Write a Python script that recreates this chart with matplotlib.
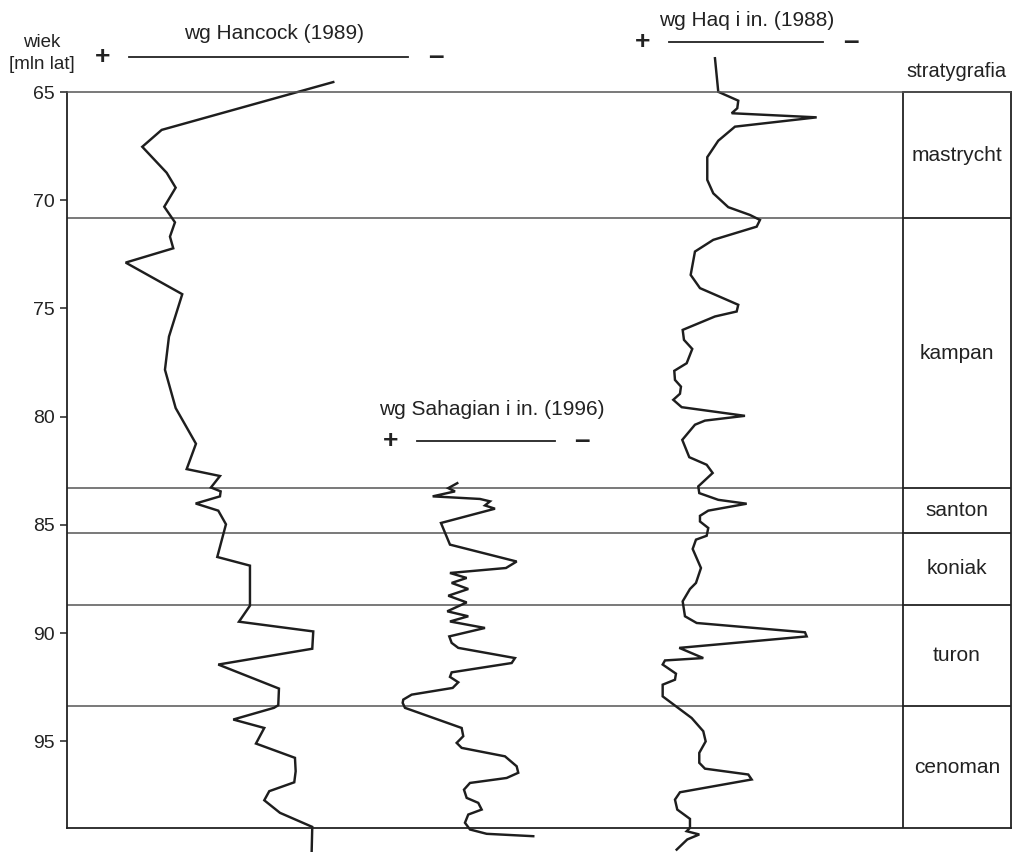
import matplotlib
matplotlib.use('Agg')
import matplotlib.pyplot as plt

plt.rcParams['font.family'] = ['Liberation Sans', 'DejaVu Sans']

# stratigraphy: stage names and boundaries (mln lat)
stages = ['mastrycht', 'kampan', 'santon', 'koniak', 'turon', 'cenoman']
bounds = [65.0, 70.82, 83.3, 85.35, 88.72, 93.38, 99.0]

# sea level curves: age (mln lat) and relative position (+ left, - right)
hancock_age = [64.54, 66.75, 67.53, 68.73, 69.42, 70.30, 71.02, 71.68, 72.22, 72.88,
               74.34, 76.30, 77.83, 79.60, 81.25, 82.42, 82.74, 83.27, 83.45, 83.68,
               84.01, 84.34, 84.97, 86.48, 86.88, 88.73, 89.47, 89.92, 90.72, 91.45,
               92.56, 93.33, 93.45, 93.99, 94.38, 95.10, 95.76, 96.38, 96.89, 97.30,
               97.72, 98.30, 98.95, 100.09]
hancock_x = [266.3, 94.7, 75.3, 99.7, 108.7, 97.3, 108, 103, 106.3, 58.7,
             115.3, 102, 98, 108.7, 129, 119.7, 153, 144, 153.7, 153,
             128.7, 151.3, 159, 150.3, 183, 183, 172, 246.3, 245.3, 151.3,
             212, 211.3, 207, 166.3, 197.3, 189, 228, 228.7, 227.3, 202.3,
             197.3, 213, 245.3, 244.7]

sahagian_age = [83.07, 83.30, 83.45, 83.68, 83.80, 83.91, 84.10, 84.25, 84.91, 85.91,
                86.69, 86.99, 87.22, 87.45, 87.68, 87.96, 88.27, 88.58, 88.99, 89.22,
                89.46, 89.76, 90.15, 90.45, 90.68, 91.15, 91.38, 91.81, 92.02, 92.27,
                92.53, 92.84, 93.07, 93.22, 93.45, 94.38, 94.76, 95.07, 95.30, 95.69,
                96.15, 96.45, 96.69, 96.92, 97.23, 97.61, 97.84, 98.15, 98.38, 98.76,
                99.07, 99.27, 99.38]
sahagian_x = [390.3, 381.3, 388, 365.7, 413, 423, 418, 428, 374, 383,
              449.7, 439, 383, 399.7, 384.7, 401.3, 381.3, 399.7, 380.3, 401.3,
              383, 418, 382.3, 384.7, 391.3, 448, 444.7, 384.7, 383, 391.3,
              385.7, 344.7, 336.3, 335.7, 338, 394.7, 396.3, 389.7, 394.7, 438,
              449.7, 451.3, 439.7, 403, 397, 399.7, 411.3, 414.7, 401.3, 398,
              403, 419.7, 466.3]

haq_age = [63.44, 64.99, 65.40, 65.75, 65.98, 66.17, 66.60, 67.25, 68.01, 69.06,
           69.68, 70.32, 70.68, 70.91, 71.22, 71.83, 72.37, 73.45, 74.06, 74.83,
           75.14, 75.37, 75.99, 76.45, 76.87, 77.53, 77.88, 78.30, 78.61, 78.94,
           79.22, 79.56, 79.96, 80.18, 80.37, 81.07, 81.87, 82.22, 82.60, 83.22,
           83.53, 83.84, 84.02, 84.34, 84.58, 84.84, 85.14, 85.50, 85.68, 86.11,
           86.99, 87.68, 87.96, 88.53, 89.22, 89.53, 89.96, 90.15, 90.68, 91.15,
           91.26, 91.45, 91.87, 92.15, 92.38, 92.92, 93.92, 94.53, 95.00, 95.53,
           95.99, 96.26, 96.53, 96.76, 97.35, 97.69, 98.15, 98.58, 98.99, 99.15,
           99.30, 99.53, 100.00]
haq_x = [648, 651.3, 671.3, 670.3, 664.7, 749.7, 668, 651.3, 640.3, 640.3,
         646.3, 661.3, 683, 693, 689.7, 646.3, 628, 623.7, 633, 671.3,
         669.7, 648, 615.7, 617, 625.3, 619.7, 607.3, 608, 614, 613,
         606.3, 614.7, 678, 638, 628, 615.3, 622.3, 639.7, 645.7, 631.3,
         632.3, 651.3, 679.7, 641.3, 633, 633, 641.3, 639.7, 629, 625.7,
         634, 629, 623, 615.7, 618, 629.7, 738, 739.7, 612.3, 636.3,
         598, 595.7, 609, 608, 595.7, 595.7, 624.7, 636.3, 638.7, 632.3,
         632.3, 638, 681.3, 684.7, 613, 608, 610.3, 623, 623, 619.7,
         632.3, 620.3, 609.7]

fig = plt.figure(figsize=(10.13, 8.52), dpi=100)
ax = fig.add_axes([0.0661, 0.0282, 0.9319, 0.8638])
ax.set_xlim(0, 944)
ax.set_ylim(bounds[-1], 65)

col_left = 836
gray = '#555555'

# stage boundaries
for b in bounds[1:-1]:
    ax.plot([0, col_left], [b, b], color=gray, lw=1.1)
    ax.plot([col_left, 944], [b, b], color='#222222', lw=1.3)
ax.plot([col_left, col_left], [bounds[0], bounds[-1]], color='#222222', lw=1.3)
ax.plot([col_left, 944], [bounds[0], bounds[0]], color='#222222', lw=1.3, clip_on=False)

for i, s in enumerate(stages):
    ax.text((col_left + 944) / 2, (bounds[i] + bounds[i + 1]) / 2, s,
            ha='center', va='center', fontsize=15, color='#222222')

# curves
for xs, ys in [(hancock_x, hancock_age), (sahagian_x, sahagian_age), (haq_x, haq_age)]:
    ax.plot(xs, ys, color='#1e1e1e', lw=1.75, clip_on=False, solid_joinstyle='miter')

# headers
def header(title, tx, ty, px, lx0, lx1, ly, mx):
    ax.text(tx, ty, title, ha='center', va='center', fontsize=15, color='#222222', clip_on=False)
    ax.text(px, ly, '+', ha='center', va='center', fontsize=19, fontweight='bold',
            color='#222222', clip_on=False)
    ax.plot([lx0, lx1], [ly, ly], color='#222222', lw=1.3, clip_on=False)
    ax.text(mx, ly, '\u2013', ha='center', va='center', fontsize=20, fontweight='bold',
            color='#222222', clip_on=False)

header('wg Hancock (1989)', 207, 62.28, 36, 62, 341, 63.40, 369)
header('wg Haq i in. (1988)', 680, 61.68, 576, 602, 756, 62.69, 784)
header('wg Sahagian i in. (1996)', 425, 79.68, 324, 350, 488, 81.14, 515)

ax.text(890, 64.03, 'stratygrafia', ha='center', va='center', fontsize=14.5,
        color='#222222', clip_on=False)
ax.text(-25, 62.69, 'wiek', ha='center', va='center', fontsize=13.5, color='#222222', clip_on=False)
ax.text(-25, 63.71, '[mln lat]', ha='center', va='center', fontsize=13.5, color='#222222', clip_on=False)

ax.set_yticks([65, 70, 75, 80, 85, 90, 95])
ax.set_xticks([])
ax.tick_params(axis='y', length=5, width=1.1, labelsize=14, colors='#222222', pad=4)
for side in ['left', 'bottom', 'right']:
    ax.spines[side].set_color('#222222')
    ax.spines[side].set_linewidth(1.3)
ax.spines['top'].set_color(gray)
ax.spines['top'].set_linewidth(1.1)

fig.savefig('out.png', dpi=100)
